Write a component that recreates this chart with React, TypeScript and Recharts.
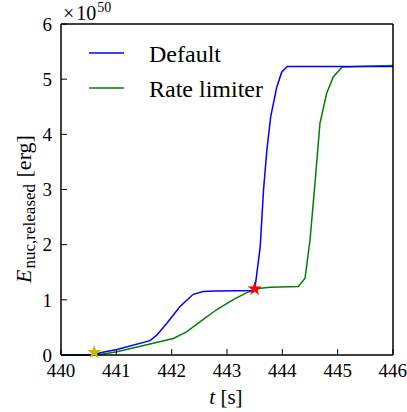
import React from 'react';
import { ComposedChart, Line, Scatter, XAxis, YAxis, Customized } from 'recharts';

// released nuclear energy (units of 1e50 erg) against time (s)
const defaultT = [440, 440.6, 440.71, 441.01, 441.61, 441.73, 441.91, 442.15, 442.39, 442.57, 442.8, 443.5, 443.6, 443.66, 443.72, 443.79, 443.9, 443.99, 444.09, 446];
const defaultE = [0, 0, 0.04, 0.1, 0.26, 0.36, 0.57, 0.88, 1.1, 1.15, 1.16, 1.17, 1.96, 2.99, 3.71, 4.32, 4.86, 5.13, 5.23, 5.23];

const limiterT = [440, 440.65, 440.77, 441.01, 441.61, 442.03, 442.27, 442.51, 442.81, 443.12, 443.36, 443.6, 443.78, 444.29, 444.41, 444.5, 444.59, 444.68, 444.8, 444.92, 445.08, 446];
const limiterE = [0, 0, 0.02, 0.06, 0.2, 0.3, 0.42, 0.6, 0.82, 1.01, 1.13, 1.21, 1.23, 1.24, 1.39, 2.08, 3.11, 4.2, 4.74, 5.04, 5.22, 5.25];

const startMark = [{ t: 440.6, e: 0.05 }];
const switchMark = [{ t: 443.5, e: 1.2 }];

const xTicks = [440, 441, 442, 443, 444, 445, 446];
const yTicks = [0, 1, 2, 3, 4, 5, 6];

const zip = (ts: number[], es: number[]) => ts.map((t, i) => ({ t, e: es[i] }));
const defaultData = zip(defaultT, defaultE);
const limiterData = zip(limiterT, limiterE);

const SERIES = [
  { name: 'Default', color: '#0000ff' },
  { name: 'Rate limiter', color: '#008000' },
];

const FONT = '"Liberation Serif", "DejaVu Serif", serif';
const tickStyle = { fontFamily: FONT, fontSize: 19, fill: '#000' };
const axisLine = { stroke: '#000', strokeWidth: 1.5 };
const tickLine = { stroke: '#000', strokeWidth: 1 };
const blank = () => '';

function Decorations() {
  return (
    <g fontFamily={FONT} fill="#000">
      {/* legend */}
      {SERIES.map((s, i) => (
        <g key={s.name}>
          <line x1={89} x2={124} y1={53 + i * 35} y2={53 + i * 35} stroke={s.color} strokeWidth={1.5} />
          <text x={149} y={62 + i * 35} fontSize={24}>{s.name}</text>
        </g>
      ))}
      {/* offset label */}
      <text x={63} y={20} fontSize={20}>
        ×<tspan dx={2}>10</tspan>
        <tspan dx={1} dy={-8} fontSize={14}>50</tspan>
      </text>
      {/* axis titles */}
      <text x={226} y={404} fontSize={21} textAnchor="middle">
        <tspan fontStyle="italic">t</tspan> [s]
      </text>
      <text transform="rotate(-90)" x={-209} y={31} fontSize={22} textAnchor="middle">
        <tspan fontStyle="italic">E</tspan>
        <tspan dx={1} dy={4} fontSize={17}>nuc,released</tspan>
        <tspan dx={1} dy={-4}> [erg]</tspan>
      </text>
    </g>
  );
}

export default function App() {
  return (
    <div style={{ position: 'absolute', left: 0, top: 0, background: '#fff' }}>
      <ComposedChart width={407} height={412} margin={{ top: 23, right: 13, left: 60, bottom: 56 }}>
        <XAxis
          xAxisId="b"
          dataKey="t"
          type="number"
          orientation="bottom"
          domain={[440, 446]}
          ticks={xTicks}
          allowDataOverflow
          height={1}
          tickSize={-6}
          tickMargin={15}
          tick={tickStyle}
          axisLine={axisLine}
          tickLine={tickLine}
        />
        <XAxis
          xAxisId="t"
          dataKey="t"
          type="number"
          orientation="top"
          domain={[440, 446]}
          ticks={xTicks}
          height={1}
          tickSize={-6}
          tickFormatter={blank}
          axisLine={axisLine}
          tickLine={tickLine}
        />
        <YAxis
          yAxisId="l"
          type="number"
          orientation="left"
          domain={[0, 6]}
          ticks={yTicks}
          width={1}
          tickSize={-6}
          tickMargin={15}
          tick={tickStyle}
          axisLine={axisLine}
          tickLine={tickLine}
        />
        <YAxis
          yAxisId="r"
          type="number"
          orientation="right"
          domain={[0, 6]}
          ticks={yTicks}
          width={1}
          tickSize={-6}
          tickFormatter={blank}
          axisLine={axisLine}
          tickLine={tickLine}
        />
        <Line
          xAxisId="b"
          yAxisId="l"
          data={limiterData}
          dataKey="e"
          name="Rate limiter"
          type="linear"
          stroke="#008000"
          strokeWidth={1.5}
          dot={false}
          isAnimationActive={false}
        />
        <Line
          xAxisId="b"
          yAxisId="l"
          data={defaultData}
          dataKey="e"
          name="Default"
          type="linear"
          stroke="#0000ff"
          strokeWidth={1.5}
          dot={false}
          isAnimationActive={false}
        />
        <Scatter xAxisId="b" yAxisId="l" data={startMark} dataKey="e" shape="star" fill="#bfbf00" isAnimationActive={false} />
        <Scatter xAxisId="b" yAxisId="l" data={switchMark} dataKey="e" shape="star" fill="#ff0000" isAnimationActive={false} />
        <Customized component={Decorations} />
      </ComposedChart>
    </div>
  );
}
